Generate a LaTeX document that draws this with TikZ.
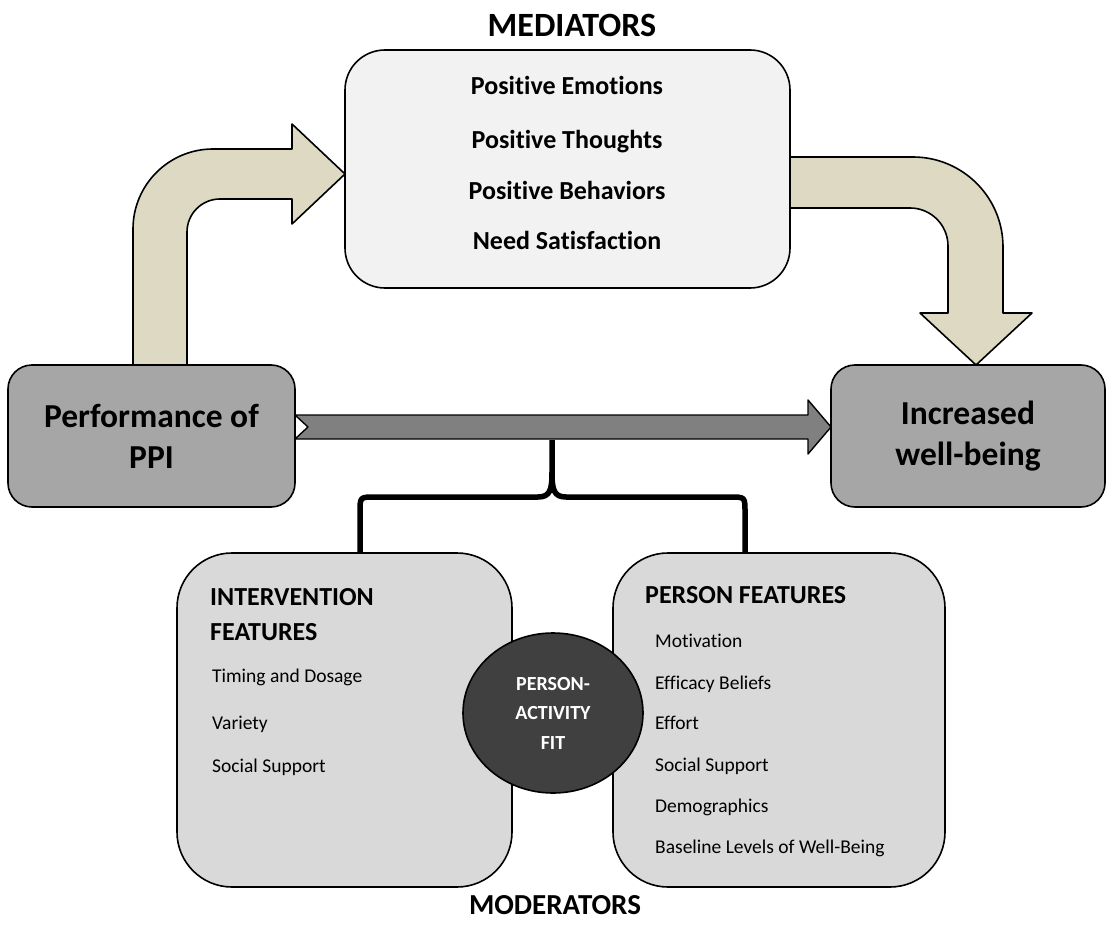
\documentclass[tikz,border=0pt]{standalone}
\usepackage{fontspec}
\setmainfont{Carlito}[Ligatures=NoCommon]
\usepackage{xcolor}
\usetikzlibrary{shapes.geometric,positioning}
\definecolor{medfill}{HTML}{F2F2F2}
\definecolor{endfill}{HTML}{A6A6A6}
\definecolor{modfill}{HTML}{D9D9D9}
\definecolor{beige}{HTML}{DDD9C3}
\definecolor{midgray}{HTML}{808080}
\definecolor{fitfill}{HTML}{404040}
\tikzstyle{title} = [font=\fontsize{34}{34}\selectfont\bfseries]
\tikzstyle{medbox} = [rectangle, draw, line width=1.6pt, fill=medfill, rounded corners=40pt]
\tikzstyle{medtext} = [font=\fontsize{26}{26}\selectfont\bfseries, text height=18pt, text depth=5pt, inner sep=0pt]
\tikzstyle{endbox} = [rectangle, draw, line width=1.6pt, fill=endfill, rounded corners=24pt, align=center, font=\fontsize{33.5}{41}\selectfont\bfseries]
\tikzstyle{modbox} = [rectangle, draw, line width=1.6pt, fill=modfill, rounded corners=55pt]
\tikzstyle{modhead} = [anchor=west, inner sep=0pt, text height=17pt, text depth=0pt, font=\fontsize{26}{26}\selectfont\bfseries]
\tikzstyle{item} = [anchor=west, inner sep=0pt, text height=13pt, text depth=4pt, font=\fontsize{19.5}{19.5}\selectfont]
\tikzstyle{fit} = [ellipse, draw, line width=1.6pt, fill=fitfill, text=white, align=center, minimum width=180pt, minimum height=160pt, inner sep=0pt, font=\fontsize{20}{29.5}\selectfont\bfseries]
\tikzstyle{bentarrow} = [draw, line width=1.6pt, fill=beige]
\tikzstyle{mainarrow} = [draw, line width=1.4pt, fill=midgray]
\tikzstyle{brace} = [draw, line width=5.5pt, line cap=butt]
\begin{document}
\begin{tikzpicture}[x=1pt,y=-1pt,line join=round]
  \useasboundingbox (0,0) rectangle (1108,928);
  \node[title] (medt) at (572,25) {MEDIATORS};
  \node[title, font=\fontsize{29}{29}\selectfont\bfseries] (modt) at (555,905) {MODERATORS};

  % mediators
  \node[medbox, minimum width=445pt, minimum height=238pt] (M) at (567.5,169) {};
  \node[medtext] (pe) at (567,88) {Positive Emotions};
  \node[medtext] (pt) at (567,142) {Positive Thoughts};
  \node[medtext] (pb) at (567,193) {Positive Behaviors};
  \node[medtext] (ns) at (567,243) {Need Satisfaction};

  % start and outcome
  \node[endbox, minimum width=287pt, minimum height=142pt] (P) at (151.5,436) {Performance of\\PPI};
  \node[endbox, minimum width=274pt, minimum height=142pt] (W) at (968,436) {Increased\\well-being};

  % moderators
  \node[modbox, minimum width=335pt, minimum height=334pt] (IF) at (344.5,720) {};
  \node[modbox, minimum width=332pt, minimum height=334pt] (PF) at (779,720) {};
  \node[fit] (FIT) at (553,713) {PERSON-\\ACTIVITY\\FIT};

  \node[modhead] (ih) at (210,597) {INTERVENTION};
  \node[modhead] (ih2) at (210,632) {FEATURES};
  \node[item] (td) at (212,678) {Timing and Dosage};
  \node[item] (va) at (212,725) {Variety};
  \node[item] (iss) at (212,768) {Social Support};

  \node[modhead] (ph) at (645,595) {PERSON FEATURES};
  \node[item] (mo) at (655,643) {Motivation};
  \node[item] (eb) at (655,685) {Efficacy Beliefs};
  \node[item] (ef) at (655,725) {Effort};
  \node[item] (pss) at (655,767) {Social Support};
  \node[item] (de) at (655,808) {Demographics};
  \node[item] (bl) at (655,849) {Baseline Levels of Well-Being};

  % arrows
  \path[bentarrow] (133,365) -- (133,229) arc[start angle=180, end angle=270, radius=80]
    -- (292,149) -- (292,124) -- (345,174) -- (292,224) -- (292,199) -- (220,199)
    arc[start angle=270, end angle=180, radius=33] -- (187,365) -- cycle;
  \path[bentarrow] (790,157) -- (913,157) arc[start angle=270, end angle=360, radius=90]
    -- (1003,313) -- (1032,313) -- (976,365) -- (920,313) -- (948,313) -- (948,246)
    arc[start angle=0, end angle=-90, radius=38] -- (790,208) -- cycle;
  \path[mainarrow] (295,415) -- (808,415) -- (808,400) -- (831,427) -- (808,454)
    -- (808,439) -- (295,439) -- (308,427) -- cycle;

  % brace
  \path[brace] (360,553) -- (360,512) .. controls (360,497) .. (375,497) -- (538,497)
    .. controls (550,497) and (552,490) .. (552,472) -- (552,440);
  \path[brace] (745,553) -- (745,512) .. controls (745,497) .. (730,497) -- (566,497)
    .. controls (554,497) and (552,490) .. (552,472);
\end{tikzpicture}
\end{document}
